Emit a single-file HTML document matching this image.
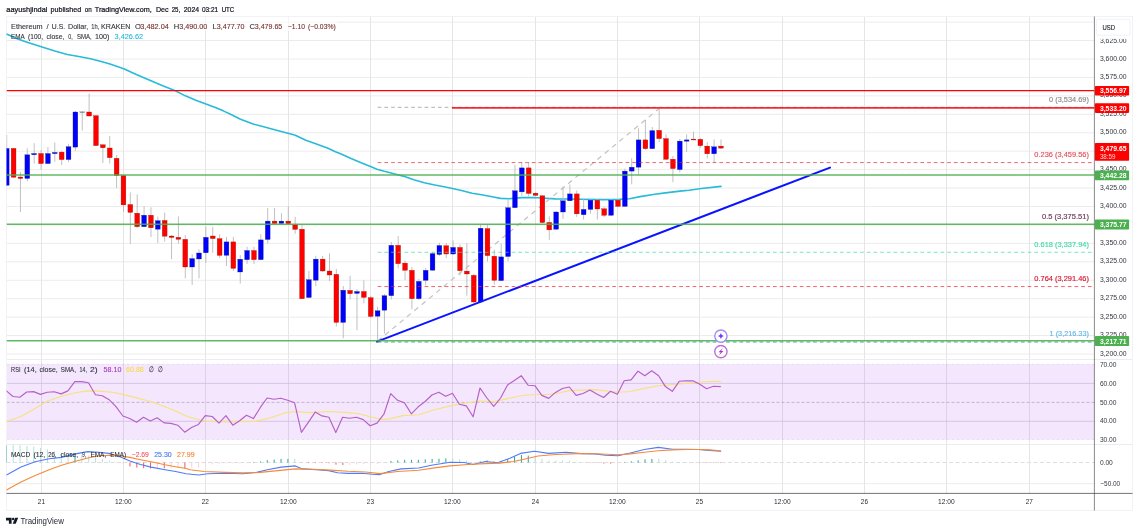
<!DOCTYPE html>
<html lang="en"><head><meta charset="utf-8"><title>ETHUSD chart</title>
<style>html,body{margin:0;padding:0;background:#fff}svg{display:block}</style></head>
<body>
<svg width="1139" height="532" viewBox="0 0 1139 532" font-family='"Liberation Sans", sans-serif'>
<rect width="1139" height="532" fill="#fff"/>
<defs><clipPath id="cp"><rect x="6.5" y="16.5" width="1088" height="477"/></clipPath></defs>
<g stroke="#ececec" stroke-width="1">
<line x1="6.5" x2="1094.5" y1="22.12" y2="22.12"/>
<line x1="6.5" x2="1094.5" y1="40.56" y2="40.56"/>
<line x1="6.5" x2="1094.5" y1="59.00" y2="59.00"/>
<line x1="6.5" x2="1094.5" y1="77.44" y2="77.44"/>
<line x1="6.5" x2="1094.5" y1="95.88" y2="95.88"/>
<line x1="6.5" x2="1094.5" y1="114.31" y2="114.31"/>
<line x1="6.5" x2="1094.5" y1="132.75" y2="132.75"/>
<line x1="6.5" x2="1094.5" y1="151.19" y2="151.19"/>
<line x1="6.5" x2="1094.5" y1="169.62" y2="169.62"/>
<line x1="6.5" x2="1094.5" y1="188.06" y2="188.06"/>
<line x1="6.5" x2="1094.5" y1="206.50" y2="206.50"/>
<line x1="6.5" x2="1094.5" y1="224.94" y2="224.94"/>
<line x1="6.5" x2="1094.5" y1="243.38" y2="243.38"/>
<line x1="6.5" x2="1094.5" y1="261.81" y2="261.81"/>
<line x1="6.5" x2="1094.5" y1="280.25" y2="280.25"/>
<line x1="6.5" x2="1094.5" y1="298.69" y2="298.69"/>
<line x1="6.5" x2="1094.5" y1="317.12" y2="317.12"/>
<line x1="6.5" x2="1094.5" y1="335.56" y2="335.56"/>
<line x1="6.5" x2="1094.5" y1="354.00" y2="354.00"/>
</g>
<line x1="6.5" x2="1094.5" y1="483.7" y2="483.7" stroke="#ececec"/>
<line x1="6.5" x2="1094.5" y1="462.5" y2="462.5" stroke="#d6d6d6" stroke-width="0.8" stroke-dasharray="4 2.5"/>
<g stroke="#e5e5e5" stroke-width="1">
<line x1="41.5" x2="41.5" y1="16.5" y2="493.4"/>
<line x1="123.5" x2="123.5" y1="16.5" y2="493.4"/>
<line x1="205.5" x2="205.5" y1="16.5" y2="493.4"/>
<line x1="288.5" x2="288.5" y1="16.5" y2="493.4"/>
<line x1="370.5" x2="370.5" y1="16.5" y2="493.4"/>
<line x1="452.5" x2="452.5" y1="16.5" y2="493.4"/>
<line x1="535.5" x2="535.5" y1="16.5" y2="493.4"/>
<line x1="617.5" x2="617.5" y1="16.5" y2="493.4"/>
<line x1="699.5" x2="699.5" y1="16.5" y2="493.4"/>
<line x1="782.5" x2="782.5" y1="16.5" y2="493.4"/>
<line x1="864.5" x2="864.5" y1="16.5" y2="493.4"/>
<line x1="946.5" x2="946.5" y1="16.5" y2="493.4"/>
<line x1="1029.5" x2="1029.5" y1="16.5" y2="493.4"/>
</g>
<rect x="6.5" y="364.2" width="1088.0" height="75.3" fill="rgb(175,88,242)" fill-opacity="0.15"/>
<g stroke="#cdbfe0" stroke-width="0.8">
<line x1="6.5" x2="1094.5" y1="383.4" y2="383.4"/>
<line x1="6.5" x2="1094.5" y1="421.3" y2="421.3"/>
</g>
<g stroke="#b9a9cf" stroke-width="0.8" stroke-dasharray="3 2">
<line x1="6.5" x2="1094.5" y1="364.3" y2="364.3" opacity="0.3"/>
<line x1="6.5" x2="1094.5" y1="439.5" y2="439.5" opacity="0.3"/>
<line x1="6.5" x2="1094.5" y1="402.4" y2="402.4" stroke="#b5a8c4"/>
</g>
<g stroke="#ebecf0" stroke-width="1">
<line x1="6.5" x2="1132.5" y1="359.5" y2="359.5"/>
<line x1="6.5" x2="1132.5" y1="444.5" y2="444.5"/>
</g>
<rect x="6.5" y="16.5" width="1126.0" height="494.0" fill="none" stroke="#f1f2f6" stroke-width="1"/>
<rect x="7.2" y="17.2" width="331" height="13.8" fill="#fff" opacity="0.6"/>
<rect x="7.2" y="31" width="138" height="9" fill="#fff" opacity="0.6"/>
<rect x="9.5" y="449.5" width="187" height="9.6" fill="#fff" opacity="0.45"/>
<g clip-path="url(#cp)">
<polyline points="6.5,34.0 15.8,38.2 26.3,41.9 42.1,47.1 54.8,51.1 67.4,54.5 80.1,56.8 90.6,58.7 101.2,61.6 110.0,64.0 123.7,68.7 136.3,74.5 152.1,81.3 162.7,85.8 175.3,90.8 185.9,96.1 196.4,100.5 205.9,104.0 215.4,107.5 223.8,111.1 230.0,114.0 240.5,119.2 253.2,124.0 263.7,126.8 276.4,130.3 289.0,133.5 295.3,135.3 305.9,140.3 316.4,144.0 328.0,148.2 335.4,151.8 340.0,153.6 350.5,158.2 361.1,162.7 370.6,166.6 376.9,169.2 384.3,171.3 394.8,174.0 403.2,176.1 413.8,179.8 424.3,182.7 434.8,185.0 445.4,187.0 460.5,190.2 472.1,193.2 481.6,194.7 492.1,196.8 500.6,198.4 509.0,198.7 521.7,197.6 534.3,197.5 544.8,198.2 555.4,198.9 570.0,199.0 581.1,199.2 602.1,199.6 619.0,199.4 629.5,198.7 640.1,196.6 654.8,194.3 665.4,192.9 680.0,191.1 689.0,190.3 699.5,188.8 721.0,186.4" fill="none" stroke="#27bbd8" stroke-width="1.6" stroke-linejoin="round" stroke-linecap="round"/>
<line x1="377.7" y1="341" x2="659" y2="108.6" stroke="#c2c2c2" stroke-width="1.2" stroke-dasharray="5 4.5"/>
<g>
<line x1="6.71" x2="6.71" y1="135.0" y2="185.5" stroke="#b6b6b6" stroke-width="0.85"/>
<line x1="13.58" x2="13.58" y1="148.0" y2="178.0" stroke="#b6b6b6" stroke-width="0.85"/>
<line x1="20.45" x2="20.45" y1="172.0" y2="212.0" stroke="#b6b6b6" stroke-width="0.85"/>
<line x1="27.31" x2="27.31" y1="148.4" y2="181.4" stroke="#b6b6b6" stroke-width="0.85"/>
<line x1="34.18" x2="34.18" y1="143.2" y2="163.6" stroke="#b6b6b6" stroke-width="0.85"/>
<line x1="41.05" x2="41.05" y1="150.0" y2="169.5" stroke="#b6b6b6" stroke-width="0.85"/>
<line x1="47.92" x2="47.92" y1="147.0" y2="164.0" stroke="#b6b6b6" stroke-width="0.85"/>
<line x1="54.79" x2="54.79" y1="142.5" y2="161.6" stroke="#b6b6b6" stroke-width="0.85"/>
<line x1="61.65" x2="61.65" y1="151.0" y2="165.0" stroke="#b6b6b6" stroke-width="0.85"/>
<line x1="68.52" x2="68.52" y1="143.8" y2="162.0" stroke="#b6b6b6" stroke-width="0.85"/>
<line x1="75.39" x2="75.39" y1="111.0" y2="151.0" stroke="#b6b6b6" stroke-width="0.85"/>
<line x1="82.26" x2="82.26" y1="111.4" y2="130.5" stroke="#b6b6b6" stroke-width="0.85"/>
<line x1="89.13" x2="89.13" y1="93.6" y2="116.5" stroke="#b6b6b6" stroke-width="0.85"/>
<line x1="95.99" x2="95.99" y1="115.0" y2="146.0" stroke="#b6b6b6" stroke-width="0.85"/>
<line x1="102.86" x2="102.86" y1="144.0" y2="163.0" stroke="#b6b6b6" stroke-width="0.85"/>
<line x1="109.73" x2="109.73" y1="136.0" y2="163.6" stroke="#b6b6b6" stroke-width="0.85"/>
<line x1="116.60" x2="116.60" y1="155.0" y2="188.0" stroke="#b6b6b6" stroke-width="0.85"/>
<line x1="123.47" x2="123.47" y1="175.0" y2="212.0" stroke="#b6b6b6" stroke-width="0.85"/>
<line x1="130.33" x2="130.33" y1="192.4" y2="244.0" stroke="#b6b6b6" stroke-width="0.85"/>
<line x1="137.20" x2="137.20" y1="194.4" y2="228.0" stroke="#b6b6b6" stroke-width="0.85"/>
<line x1="144.07" x2="144.07" y1="206.2" y2="227.0" stroke="#b6b6b6" stroke-width="0.85"/>
<line x1="150.94" x2="150.94" y1="207.3" y2="237.0" stroke="#b6b6b6" stroke-width="0.85"/>
<line x1="157.81" x2="157.81" y1="216.6" y2="243.0" stroke="#b6b6b6" stroke-width="0.85"/>
<line x1="164.67" x2="164.67" y1="212.6" y2="241.5" stroke="#b6b6b6" stroke-width="0.85"/>
<line x1="171.54" x2="171.54" y1="235.0" y2="259.3" stroke="#b6b6b6" stroke-width="0.85"/>
<line x1="178.41" x2="178.41" y1="216.3" y2="243.5" stroke="#b6b6b6" stroke-width="0.85"/>
<line x1="185.28" x2="185.28" y1="235.0" y2="278.3" stroke="#b6b6b6" stroke-width="0.85"/>
<line x1="192.15" x2="192.15" y1="254.0" y2="284.9" stroke="#b6b6b6" stroke-width="0.85"/>
<line x1="199.01" x2="199.01" y1="249.4" y2="278.3" stroke="#b6b6b6" stroke-width="0.85"/>
<line x1="205.88" x2="205.88" y1="226.4" y2="263.0" stroke="#b6b6b6" stroke-width="0.85"/>
<line x1="212.75" x2="212.75" y1="227.0" y2="252.7" stroke="#b6b6b6" stroke-width="0.85"/>
<line x1="219.62" x2="219.62" y1="234.3" y2="257.9" stroke="#b6b6b6" stroke-width="0.85"/>
<line x1="226.49" x2="226.49" y1="236.9" y2="266.0" stroke="#b6b6b6" stroke-width="0.85"/>
<line x1="233.35" x2="233.35" y1="236.9" y2="271.0" stroke="#b6b6b6" stroke-width="0.85"/>
<line x1="240.22" x2="240.22" y1="255.0" y2="283.6" stroke="#b6b6b6" stroke-width="0.85"/>
<line x1="247.09" x2="247.09" y1="246.8" y2="263.9" stroke="#b6b6b6" stroke-width="0.85"/>
<line x1="253.96" x2="253.96" y1="246.8" y2="263.9" stroke="#b6b6b6" stroke-width="0.85"/>
<line x1="260.83" x2="260.83" y1="234.3" y2="260.0" stroke="#b6b6b6" stroke-width="0.85"/>
<line x1="267.69" x2="267.69" y1="207.9" y2="243.5" stroke="#b6b6b6" stroke-width="0.85"/>
<line x1="274.56" x2="274.56" y1="207.9" y2="224.0" stroke="#b6b6b6" stroke-width="0.85"/>
<line x1="281.43" x2="281.43" y1="213.2" y2="224.0" stroke="#b6b6b6" stroke-width="0.85"/>
<line x1="288.30" x2="288.30" y1="206.6" y2="224.0" stroke="#b6b6b6" stroke-width="0.85"/>
<line x1="295.17" x2="295.17" y1="216.8" y2="233.8" stroke="#b6b6b6" stroke-width="0.85"/>
<line x1="302.03" x2="302.03" y1="225.0" y2="299.0" stroke="#b6b6b6" stroke-width="0.85"/>
<line x1="308.90" x2="308.90" y1="271.0" y2="298.0" stroke="#b6b6b6" stroke-width="0.85"/>
<line x1="315.77" x2="315.77" y1="255.8" y2="286.2" stroke="#b6b6b6" stroke-width="0.85"/>
<line x1="322.64" x2="322.64" y1="255.8" y2="272.0" stroke="#b6b6b6" stroke-width="0.85"/>
<line x1="329.51" x2="329.51" y1="253.2" y2="281.0" stroke="#b6b6b6" stroke-width="0.85"/>
<line x1="336.37" x2="336.37" y1="269.0" y2="326.4" stroke="#b6b6b6" stroke-width="0.85"/>
<line x1="343.24" x2="343.24" y1="286.0" y2="338.2" stroke="#b6b6b6" stroke-width="0.85"/>
<line x1="350.11" x2="350.11" y1="275.6" y2="299.4" stroke="#b6b6b6" stroke-width="0.85"/>
<line x1="356.98" x2="356.98" y1="289.0" y2="330.3" stroke="#b6b6b6" stroke-width="0.85"/>
<line x1="363.85" x2="363.85" y1="280.3" y2="303.3" stroke="#b6b6b6" stroke-width="0.85"/>
<line x1="370.71" x2="370.71" y1="296.0" y2="318.0" stroke="#b6b6b6" stroke-width="0.85"/>
<line x1="377.58" x2="377.58" y1="306.6" y2="340.9" stroke="#b6b6b6" stroke-width="0.85"/>
<line x1="384.45" x2="384.45" y1="294.0" y2="333.6" stroke="#b6b6b6" stroke-width="0.85"/>
<line x1="391.32" x2="391.32" y1="242.0" y2="299.4" stroke="#b6b6b6" stroke-width="0.85"/>
<line x1="398.19" x2="398.19" y1="236.1" y2="268.4" stroke="#b6b6b6" stroke-width="0.85"/>
<line x1="405.05" x2="405.05" y1="260.5" y2="280.0" stroke="#b6b6b6" stroke-width="0.85"/>
<line x1="411.92" x2="411.92" y1="267.0" y2="309.3" stroke="#b6b6b6" stroke-width="0.85"/>
<line x1="418.79" x2="418.79" y1="279.0" y2="300.0" stroke="#b6b6b6" stroke-width="0.85"/>
<line x1="425.66" x2="425.66" y1="268.0" y2="285.5" stroke="#b6b6b6" stroke-width="0.85"/>
<line x1="432.53" x2="432.53" y1="252.0" y2="271.0" stroke="#b6b6b6" stroke-width="0.85"/>
<line x1="439.39" x2="439.39" y1="243.0" y2="256.0" stroke="#b6b6b6" stroke-width="0.85"/>
<line x1="446.26" x2="446.26" y1="243.0" y2="258.2" stroke="#b6b6b6" stroke-width="0.85"/>
<line x1="453.13" x2="453.13" y1="240.4" y2="255.0" stroke="#b6b6b6" stroke-width="0.85"/>
<line x1="460.00" x2="460.00" y1="244.4" y2="275.3" stroke="#b6b6b6" stroke-width="0.85"/>
<line x1="466.87" x2="466.87" y1="243.0" y2="295.7" stroke="#b6b6b6" stroke-width="0.85"/>
<line x1="473.73" x2="473.73" y1="274.0" y2="303.0" stroke="#b6b6b6" stroke-width="0.85"/>
<line x1="480.60" x2="480.60" y1="224.0" y2="303.0" stroke="#b6b6b6" stroke-width="0.85"/>
<line x1="487.47" x2="487.47" y1="224.6" y2="261.5" stroke="#b6b6b6" stroke-width="0.85"/>
<line x1="494.34" x2="494.34" y1="249.6" y2="284.6" stroke="#b6b6b6" stroke-width="0.85"/>
<line x1="501.21" x2="501.21" y1="243.7" y2="281.0" stroke="#b6b6b6" stroke-width="0.85"/>
<line x1="508.07" x2="508.07" y1="199.8" y2="261.5" stroke="#b6b6b6" stroke-width="0.85"/>
<line x1="514.94" x2="514.94" y1="164.9" y2="208.0" stroke="#b6b6b6" stroke-width="0.85"/>
<line x1="521.81" x2="521.81" y1="162.2" y2="195.8" stroke="#b6b6b6" stroke-width="0.85"/>
<line x1="528.68" x2="528.68" y1="162.2" y2="196.5" stroke="#b6b6b6" stroke-width="0.85"/>
<line x1="535.55" x2="535.55" y1="192.0" y2="196.0" stroke="#b6b6b6" stroke-width="0.85"/>
<line x1="542.41" x2="542.41" y1="195.0" y2="223.0" stroke="#b6b6b6" stroke-width="0.85"/>
<line x1="549.28" x2="549.28" y1="216.3" y2="239.8" stroke="#b6b6b6" stroke-width="0.85"/>
<line x1="556.15" x2="556.15" y1="211.0" y2="230.0" stroke="#b6b6b6" stroke-width="0.85"/>
<line x1="563.02" x2="563.02" y1="186.6" y2="218.9" stroke="#b6b6b6" stroke-width="0.85"/>
<line x1="569.89" x2="569.89" y1="184.6" y2="201.0" stroke="#b6b6b6" stroke-width="0.85"/>
<line x1="576.75" x2="576.75" y1="190.6" y2="216.9" stroke="#b6b6b6" stroke-width="0.85"/>
<line x1="583.62" x2="583.62" y1="199.1" y2="219.6" stroke="#b6b6b6" stroke-width="0.85"/>
<line x1="590.49" x2="590.49" y1="199.0" y2="213.6" stroke="#b6b6b6" stroke-width="0.85"/>
<line x1="597.36" x2="597.36" y1="199.0" y2="219.6" stroke="#b6b6b6" stroke-width="0.85"/>
<line x1="604.23" x2="604.23" y1="207.0" y2="217.0" stroke="#b6b6b6" stroke-width="0.85"/>
<line x1="611.09" x2="611.09" y1="199.0" y2="216.0" stroke="#b6b6b6" stroke-width="0.85"/>
<line x1="617.96" x2="617.96" y1="199.0" y2="207.0" stroke="#b6b6b6" stroke-width="0.85"/>
<line x1="624.83" x2="624.83" y1="168.6" y2="207.0" stroke="#b6b6b6" stroke-width="0.85"/>
<line x1="631.70" x2="631.70" y1="158.2" y2="184.3" stroke="#b6b6b6" stroke-width="0.85"/>
<line x1="638.57" x2="638.57" y1="128.3" y2="174.9" stroke="#b6b6b6" stroke-width="0.85"/>
<line x1="645.43" x2="645.43" y1="119.8" y2="150.0" stroke="#b6b6b6" stroke-width="0.85"/>
<line x1="652.30" x2="652.30" y1="127.0" y2="149.0" stroke="#b6b6b6" stroke-width="0.85"/>
<line x1="659.17" x2="659.17" y1="108.6" y2="142.2" stroke="#b6b6b6" stroke-width="0.85"/>
<line x1="666.04" x2="666.04" y1="134.3" y2="160.0" stroke="#b6b6b6" stroke-width="0.85"/>
<line x1="672.91" x2="672.91" y1="156.0" y2="182.2" stroke="#b6b6b6" stroke-width="0.85"/>
<line x1="679.77" x2="679.77" y1="138.9" y2="172.3" stroke="#b6b6b6" stroke-width="0.85"/>
<line x1="686.64" x2="686.64" y1="134.3" y2="152.0" stroke="#b6b6b6" stroke-width="0.85"/>
<line x1="693.51" x2="693.51" y1="131.6" y2="140.0" stroke="#b6b6b6" stroke-width="0.85"/>
<line x1="700.38" x2="700.38" y1="138.0" y2="148.0" stroke="#b6b6b6" stroke-width="0.85"/>
<line x1="707.25" x2="707.25" y1="142.2" y2="158.5" stroke="#b6b6b6" stroke-width="0.85"/>
<line x1="714.11" x2="714.11" y1="139.5" y2="163.0" stroke="#b6b6b6" stroke-width="0.85"/>
<line x1="720.98" x2="720.98" y1="139.5" y2="149.0" stroke="#b6b6b6" stroke-width="0.85"/>
<rect x="4.31" y="148.40" width="4.8" height="36.90" fill="#0000ff" stroke="#1c2a6a" stroke-width="0.3"/>
<rect x="11.18" y="148.40" width="4.8" height="28.80" fill="#ff0000" stroke="#8a1a00" stroke-width="0.3"/>
<rect x="18.05" y="177.00" width="4.8" height="1.50" fill="#ff0000" stroke="#8a1a00" stroke-width="0.3"/>
<rect x="24.91" y="154.80" width="4.8" height="23.70" fill="#0000ff" stroke="#1c2a6a" stroke-width="0.3"/>
<rect x="31.78" y="153.50" width="4.8" height="1.30" fill="#0000ff" stroke="#1c2a6a" stroke-width="0.3"/>
<rect x="38.65" y="153.50" width="4.8" height="10.10" fill="#ff0000" stroke="#8a1a00" stroke-width="0.3"/>
<rect x="45.52" y="153.50" width="4.8" height="10.10" fill="#0000ff" stroke="#1c2a6a" stroke-width="0.3"/>
<rect x="52.39" y="152.40" width="4.8" height="1.30" fill="#0000ff" stroke="#1c2a6a" stroke-width="0.3"/>
<rect x="59.25" y="152.10" width="4.8" height="7.50" fill="#ff0000" stroke="#8a1a00" stroke-width="0.3"/>
<rect x="66.12" y="146.70" width="4.8" height="12.90" fill="#0000ff" stroke="#1c2a6a" stroke-width="0.3"/>
<rect x="72.99" y="112.00" width="4.8" height="35.10" fill="#0000ff" stroke="#1c2a6a" stroke-width="0.3"/>
<rect x="79.86" y="111.80" width="4.8" height="0.90" fill="#6f8f7f" stroke="#6f8f7f" stroke-width="0.3"/>
<rect x="86.73" y="112.00" width="4.8" height="4.00" fill="#ff0000" stroke="#8a1a00" stroke-width="0.3"/>
<rect x="93.59" y="115.70" width="4.8" height="29.90" fill="#ff0000" stroke="#8a1a00" stroke-width="0.3"/>
<rect x="100.46" y="144.80" width="4.8" height="3.00" fill="#ff0000" stroke="#8a1a00" stroke-width="0.3"/>
<rect x="107.33" y="148.00" width="4.8" height="9.70" fill="#ff0000" stroke="#8a1a00" stroke-width="0.3"/>
<rect x="114.20" y="158.30" width="4.8" height="17.20" fill="#ff0000" stroke="#8a1a00" stroke-width="0.3"/>
<rect x="121.07" y="175.50" width="4.8" height="29.40" fill="#ff0000" stroke="#8a1a00" stroke-width="0.3"/>
<rect x="127.93" y="204.50" width="4.8" height="7.90" fill="#ff0000" stroke="#8a1a00" stroke-width="0.3"/>
<rect x="134.80" y="213.20" width="4.8" height="13.50" fill="#ff0000" stroke="#8a1a00" stroke-width="0.3"/>
<rect x="141.67" y="215.20" width="4.8" height="11.50" fill="#0000ff" stroke="#1c2a6a" stroke-width="0.3"/>
<rect x="148.54" y="215.20" width="4.8" height="12.60" fill="#ff0000" stroke="#8a1a00" stroke-width="0.3"/>
<rect x="155.41" y="220.70" width="4.8" height="8.50" fill="#0000ff" stroke="#1c2a6a" stroke-width="0.3"/>
<rect x="162.27" y="220.40" width="4.8" height="15.80" fill="#ff0000" stroke="#8a1a00" stroke-width="0.3"/>
<rect x="169.14" y="236.00" width="4.8" height="1.50" fill="#ff0000" stroke="#8a1a00" stroke-width="0.3"/>
<rect x="176.01" y="237.30" width="4.8" height="2.00" fill="#ff0000" stroke="#8a1a00" stroke-width="0.3"/>
<rect x="182.88" y="239.30" width="4.8" height="27.70" fill="#ff0000" stroke="#8a1a00" stroke-width="0.3"/>
<rect x="189.75" y="258.60" width="4.8" height="8.40" fill="#0000ff" stroke="#1c2a6a" stroke-width="0.3"/>
<rect x="196.61" y="253.00" width="4.8" height="6.00" fill="#0000ff" stroke="#1c2a6a" stroke-width="0.3"/>
<rect x="203.48" y="237.30" width="4.8" height="15.50" fill="#0000ff" stroke="#1c2a6a" stroke-width="0.3"/>
<rect x="210.35" y="236.00" width="4.8" height="2.60" fill="#ff0000" stroke="#8a1a00" stroke-width="0.3"/>
<rect x="217.22" y="238.60" width="4.8" height="16.80" fill="#ff0000" stroke="#8a1a00" stroke-width="0.3"/>
<rect x="224.09" y="241.90" width="4.8" height="13.40" fill="#0000ff" stroke="#1c2a6a" stroke-width="0.3"/>
<rect x="230.95" y="241.90" width="4.8" height="26.50" fill="#ff0000" stroke="#8a1a00" stroke-width="0.3"/>
<rect x="237.82" y="259.20" width="4.8" height="12.80" fill="#0000ff" stroke="#1c2a6a" stroke-width="0.3"/>
<rect x="244.69" y="250.50" width="4.8" height="9.20" fill="#0000ff" stroke="#1c2a6a" stroke-width="0.3"/>
<rect x="251.56" y="250.50" width="4.8" height="9.20" fill="#ff0000" stroke="#8a1a00" stroke-width="0.3"/>
<rect x="258.43" y="239.90" width="4.8" height="19.80" fill="#0000ff" stroke="#1c2a6a" stroke-width="0.3"/>
<rect x="265.29" y="221.10" width="4.8" height="18.40" fill="#0000ff" stroke="#1c2a6a" stroke-width="0.3"/>
<rect x="272.16" y="221.10" width="4.8" height="2.40" fill="#ff0000" stroke="#8a1a00" stroke-width="0.3"/>
<rect x="279.03" y="221.10" width="4.8" height="2.40" fill="#0000ff" stroke="#1c2a6a" stroke-width="0.3"/>
<rect x="285.90" y="221.10" width="4.8" height="2.60" fill="#ff0000" stroke="#8a1a00" stroke-width="0.3"/>
<rect x="292.77" y="224.60" width="4.8" height="4.80" fill="#ff0000" stroke="#8a1a00" stroke-width="0.3"/>
<rect x="299.63" y="229.20" width="4.8" height="69.50" fill="#ff0000" stroke="#8a1a00" stroke-width="0.3"/>
<rect x="306.50" y="279.70" width="4.8" height="17.80" fill="#0000ff" stroke="#1c2a6a" stroke-width="0.3"/>
<rect x="313.37" y="259.10" width="4.8" height="21.10" fill="#0000ff" stroke="#1c2a6a" stroke-width="0.3"/>
<rect x="320.24" y="259.10" width="4.8" height="11.90" fill="#ff0000" stroke="#8a1a00" stroke-width="0.3"/>
<rect x="327.11" y="271.00" width="4.8" height="4.00" fill="#ff0000" stroke="#8a1a00" stroke-width="0.3"/>
<rect x="333.97" y="274.30" width="4.8" height="48.10" fill="#ff0000" stroke="#8a1a00" stroke-width="0.3"/>
<rect x="340.84" y="290.20" width="4.8" height="32.20" fill="#0000ff" stroke="#1c2a6a" stroke-width="0.3"/>
<rect x="347.71" y="290.40" width="4.8" height="3.30" fill="#ff0000" stroke="#8a1a00" stroke-width="0.3"/>
<rect x="354.58" y="291.50" width="4.8" height="1.90" fill="#0000ff" stroke="#1c2a6a" stroke-width="0.3"/>
<rect x="361.45" y="291.50" width="4.8" height="5.90" fill="#ff0000" stroke="#8a1a00" stroke-width="0.3"/>
<rect x="368.31" y="297.70" width="4.8" height="18.80" fill="#ff0000" stroke="#8a1a00" stroke-width="0.3"/>
<rect x="375.18" y="310.80" width="4.8" height="5.40" fill="#0000ff" stroke="#1c2a6a" stroke-width="0.3"/>
<rect x="382.05" y="295.70" width="4.8" height="14.50" fill="#0000ff" stroke="#1c2a6a" stroke-width="0.3"/>
<rect x="388.92" y="245.30" width="4.8" height="50.40" fill="#0000ff" stroke="#1c2a6a" stroke-width="0.3"/>
<rect x="395.79" y="245.30" width="4.8" height="18.40" fill="#ff0000" stroke="#8a1a00" stroke-width="0.3"/>
<rect x="402.65" y="263.10" width="4.8" height="7.20" fill="#ff0000" stroke="#8a1a00" stroke-width="0.3"/>
<rect x="409.52" y="270.30" width="4.8" height="28.40" fill="#ff0000" stroke="#8a1a00" stroke-width="0.3"/>
<rect x="416.39" y="281.40" width="4.8" height="17.30" fill="#0000ff" stroke="#1c2a6a" stroke-width="0.3"/>
<rect x="423.26" y="270.30" width="4.8" height="10.00" fill="#0000ff" stroke="#1c2a6a" stroke-width="0.3"/>
<rect x="430.13" y="253.60" width="4.8" height="16.60" fill="#0000ff" stroke="#1c2a6a" stroke-width="0.3"/>
<rect x="436.99" y="245.50" width="4.8" height="9.00" fill="#0000ff" stroke="#1c2a6a" stroke-width="0.3"/>
<rect x="443.86" y="245.70" width="4.8" height="8.30" fill="#ff0000" stroke="#8a1a00" stroke-width="0.3"/>
<rect x="450.73" y="247.40" width="4.8" height="6.60" fill="#0000ff" stroke="#1c2a6a" stroke-width="0.3"/>
<rect x="457.60" y="247.40" width="4.8" height="23.30" fill="#ff0000" stroke="#8a1a00" stroke-width="0.3"/>
<rect x="464.47" y="271.10" width="4.8" height="2.90" fill="#ff0000" stroke="#8a1a00" stroke-width="0.3"/>
<rect x="471.33" y="275.30" width="4.8" height="26.70" fill="#ff0000" stroke="#8a1a00" stroke-width="0.3"/>
<rect x="478.20" y="228.20" width="4.8" height="73.80" fill="#0000ff" stroke="#1c2a6a" stroke-width="0.3"/>
<rect x="485.07" y="228.60" width="4.8" height="27.00" fill="#ff0000" stroke="#8a1a00" stroke-width="0.3"/>
<rect x="491.94" y="256.20" width="4.8" height="24.10" fill="#ff0000" stroke="#8a1a00" stroke-width="0.3"/>
<rect x="498.81" y="256.90" width="4.8" height="23.70" fill="#0000ff" stroke="#1c2a6a" stroke-width="0.3"/>
<rect x="505.67" y="207.70" width="4.8" height="48.80" fill="#0000ff" stroke="#1c2a6a" stroke-width="0.3"/>
<rect x="512.54" y="190.80" width="4.8" height="16.90" fill="#0000ff" stroke="#1c2a6a" stroke-width="0.3"/>
<rect x="519.41" y="167.90" width="4.8" height="24.00" fill="#0000ff" stroke="#1c2a6a" stroke-width="0.3"/>
<rect x="526.28" y="167.90" width="4.8" height="25.60" fill="#ff0000" stroke="#8a1a00" stroke-width="0.3"/>
<rect x="533.15" y="193.20" width="4.8" height="2.20" fill="#ff0000" stroke="#8a1a00" stroke-width="0.3"/>
<rect x="540.01" y="195.80" width="4.8" height="26.80" fill="#ff0000" stroke="#8a1a00" stroke-width="0.3"/>
<rect x="546.88" y="222.40" width="4.8" height="7.50" fill="#ff0000" stroke="#8a1a00" stroke-width="0.3"/>
<rect x="553.75" y="212.00" width="4.8" height="17.20" fill="#0000ff" stroke="#1c2a6a" stroke-width="0.3"/>
<rect x="560.62" y="200.80" width="4.8" height="11.20" fill="#0000ff" stroke="#1c2a6a" stroke-width="0.3"/>
<rect x="567.49" y="193.90" width="4.8" height="6.90" fill="#0000ff" stroke="#1c2a6a" stroke-width="0.3"/>
<rect x="574.35" y="193.90" width="4.8" height="20.00" fill="#ff0000" stroke="#8a1a00" stroke-width="0.3"/>
<rect x="581.22" y="209.40" width="4.8" height="5.30" fill="#0000ff" stroke="#1c2a6a" stroke-width="0.3"/>
<rect x="588.09" y="200.20" width="4.8" height="9.20" fill="#0000ff" stroke="#1c2a6a" stroke-width="0.3"/>
<rect x="594.96" y="200.20" width="4.8" height="8.80" fill="#ff0000" stroke="#8a1a00" stroke-width="0.3"/>
<rect x="601.83" y="208.80" width="4.8" height="6.50" fill="#ff0000" stroke="#8a1a00" stroke-width="0.3"/>
<rect x="608.69" y="200.20" width="4.8" height="15.10" fill="#0000ff" stroke="#1c2a6a" stroke-width="0.3"/>
<rect x="615.56" y="200.20" width="4.8" height="6.20" fill="#ff0000" stroke="#8a1a00" stroke-width="0.3"/>
<rect x="622.43" y="171.10" width="4.8" height="35.30" fill="#0000ff" stroke="#1c2a6a" stroke-width="0.3"/>
<rect x="629.30" y="167.20" width="4.8" height="3.90" fill="#0000ff" stroke="#1c2a6a" stroke-width="0.3"/>
<rect x="636.17" y="139.90" width="4.8" height="27.30" fill="#0000ff" stroke="#1c2a6a" stroke-width="0.3"/>
<rect x="643.03" y="139.90" width="4.8" height="8.80" fill="#ff0000" stroke="#8a1a00" stroke-width="0.3"/>
<rect x="649.90" y="130.60" width="4.8" height="18.10" fill="#0000ff" stroke="#1c2a6a" stroke-width="0.3"/>
<rect x="656.77" y="130.30" width="4.8" height="8.30" fill="#ff0000" stroke="#8a1a00" stroke-width="0.3"/>
<rect x="663.64" y="138.60" width="4.8" height="20.70" fill="#ff0000" stroke="#8a1a00" stroke-width="0.3"/>
<rect x="670.51" y="159.20" width="4.8" height="9.40" fill="#ff0000" stroke="#8a1a00" stroke-width="0.3"/>
<rect x="677.37" y="141.10" width="4.8" height="28.50" fill="#0000ff" stroke="#1c2a6a" stroke-width="0.3"/>
<rect x="684.24" y="139.90" width="4.8" height="1.30" fill="#0000ff" stroke="#1c2a6a" stroke-width="0.3"/>
<rect x="691.11" y="139.10" width="4.8" height="0.90" fill="#ff0000" stroke="#8a1a00" stroke-width="0.3"/>
<rect x="697.98" y="139.30" width="4.8" height="6.40" fill="#ff0000" stroke="#8a1a00" stroke-width="0.3"/>
<rect x="704.85" y="146.10" width="4.8" height="7.70" fill="#ff0000" stroke="#8a1a00" stroke-width="0.3"/>
<rect x="711.71" y="146.80" width="4.8" height="7.00" fill="#0000ff" stroke="#1c2a6a" stroke-width="0.3"/>
<rect x="718.58" y="146.10" width="4.8" height="2.00" fill="#ff0000" stroke="#8a1a00" stroke-width="0.3"/>
</g>
<line x1="6.5" x2="1094.5" y1="90.7" y2="90.7" stroke="#ff0000" stroke-width="1.3"/>
<line x1="377.7" x2="1094.5" y1="107.30" y2="107.30" stroke="#a8a8a8" stroke-width="0.9" stroke-dasharray="3.7 3" opacity="1"/>
<line x1="452" x2="1094.5" y1="107.95" y2="107.95" stroke="#f5141e" stroke-width="1.7" opacity="0.9"/>
<line x1="377" y1="341.6" x2="830" y2="167.6" stroke="#0a14ff" stroke-width="2.05" stroke-linecap="round"/>
<line x1="6.5" x2="1094.5" y1="175.0" y2="175.0" stroke="#4caf50" stroke-width="1.6" opacity="0.88"/>
<line x1="6.5" x2="1094.5" y1="224.25" y2="224.25" stroke="#4caf50" stroke-width="1.6" opacity="0.88"/>
<line x1="6.5" x2="1094.5" y1="340.8" y2="340.8" stroke="#4caf50" stroke-width="1.6" opacity="0.88"/>
<line x1="377.7" x2="1094.5" y1="162.57" y2="162.57" stroke="#e0283a" stroke-width="0.7" stroke-dasharray="3.7 3" opacity="1"/>
<line x1="377.7" x2="1094.5" y1="252.27" y2="252.27" stroke="#3fd8a8" stroke-width="0.7" stroke-dasharray="3.7 3" opacity="1"/>
<line x1="377.7" x2="1094.5" y1="286.55" y2="286.55" stroke="#f0202c" stroke-width="0.7" stroke-dasharray="3.7 3" opacity="1"/>
<line x1="377.7" x2="1094.5" y1="342.06" y2="342.06" stroke="#2b9a7c" stroke-width="0.8" stroke-dasharray="3.7 3" opacity="1"/>
</g>
<text x="1088.9" y="101.9" font-size="7.4" fill="#8a8a8a" text-anchor="end" textLength="39.9" lengthAdjust="spacingAndGlyphs" stroke="#8a8a8a" stroke-width="0.15">0 (3,534.69)</text>
<text x="1088.9" y="157.3" font-size="7.4" fill="#e0505c" text-anchor="end" textLength="54.6" lengthAdjust="spacingAndGlyphs" stroke="#e0505c" stroke-width="0.15">0.236 (3,459.56)</text>
<text x="1088.9" y="218.9" font-size="7.4" fill="#6b3553" text-anchor="end" textLength="46.9" lengthAdjust="spacingAndGlyphs" stroke="#6b3553" stroke-width="0.15">0.5 (3,375.51)</text>
<text x="1088.9" y="246.9" font-size="7.4" fill="#3fd8a8" text-anchor="end" textLength="54.6" lengthAdjust="spacingAndGlyphs" stroke="#3fd8a8" stroke-width="0.15">0.618 (3,337.94)</text>
<text x="1088.9" y="281" font-size="7.4" fill="#d9142f" text-anchor="end" textLength="54.6" lengthAdjust="spacingAndGlyphs" stroke="#d9142f" stroke-width="0.15">0.764 (3,291.46)</text>
<text x="1088.9" y="336.3" font-size="7.4" fill="#64b5e6" text-anchor="end" textLength="39.3" lengthAdjust="spacingAndGlyphs" stroke="#64b5e6" stroke-width="0.15">1 (3,216.33)</text>
<g fill="#fff" stroke-width="1.4">
<circle cx="720.9" cy="336.1" r="6.15" stroke="#a48cf8"/>
<circle cx="720.9" cy="351.6" r="6.15" stroke="#c06fd0"/>
</g>
<path d="M720.9 333.1 Q721.3 335.7 723.9 336.1 Q721.3 336.5 720.9 339.1 Q720.5 336.5 717.9 336.1 Q720.5 335.7 720.9 333.1Z" fill="#6a3dff"/>
<path d="M723 347.9 L718.5 352.3 L720.8 352.3 L718.9 355.4 L723.4 350.9 L721.1 350.9 Z" fill="#a431bb"/>
<g clip-path="url(#cp)">
<polyline points="6.5,421.6 21.0,416.4 35.1,408.5 46.5,401.5 61.5,396.2 75.5,392.7 87.8,390.9 98.3,391.1 112.4,392.2 122.9,394.4 137.0,397.9 151.0,401.8 165.0,406.7 175.6,411.1 186.1,415.9 190.0,417.3 205.8,421.2 225.1,421.9 255.0,421.4 269.0,418.2 284.8,412.9 295.4,411.5 309.4,412.6 328.7,411.5 348.0,412.6 358.6,413.8 372.6,417.3 383.2,419.6 390.5,418.6 402.8,415.6 418.6,414.7 432.7,410.3 450.2,405.9 464.3,403.3 480.0,401.0 494.0,401.9 506.4,398.9 520.5,395.7 534.5,394.5 548.6,394.5 560.0,392.8 568.8,390.6 595.1,389.6 618.0,392.2 630.2,391.5 644.3,388.4 658.3,385.7 679.4,384.0 700.5,382.2 712.8,381.2 720.7,381.5" fill="none" stroke="#f7e27c" stroke-width="1.1" stroke-linejoin="round" stroke-linecap="round"/>
<polyline points="6.1,390.6 13.0,396.5 19.8,397.2 26.7,392.0 33.6,391.6 40.4,394.4 47.3,392.2 54.2,391.8 61.1,393.9 67.9,390.9 74.8,381.6 81.7,381.6 88.5,382.7 95.4,394.8 102.3,395.8 109.1,399.7 116.0,406.7 122.9,416.0 129.7,418.5 136.6,422.2 143.5,417.3 150.3,421.1 157.2,417.8 164.1,422.9 170.9,423.4 177.8,425.2 184.7,432.2 191.5,427.6 198.4,424.4 205.3,415.6 212.2,416.5 219.0,423.1 225.9,415.6 232.8,425.2 239.6,420.8 246.5,415.2 253.4,418.6 260.2,407.7 267.1,398.0 274.0,399.2 280.8,398.2 287.7,400.3 294.6,402.8 301.4,432.3 308.3,422.3 315.2,412.1 322.0,415.9 328.9,417.3 335.8,432.6 342.6,417.3 349.5,418.2 356.4,417.3 363.2,419.6 370.1,425.8 377.0,423.1 383.9,414.2 390.7,393.6 397.6,400.3 404.5,402.9 411.3,413.8 418.2,406.8 425.1,401.5 431.9,395.0 438.8,392.2 445.7,396.3 452.5,393.3 459.4,404.2 466.3,405.9 473.1,416.8 480.0,388.0 486.9,398.0 493.7,406.4 500.6,398.0 507.5,384.9 514.3,380.5 521.2,375.7 528.1,385.2 534.9,385.7 541.8,395.4 548.7,398.4 555.5,392.4 562.4,388.5 569.3,387.0 576.2,395.4 583.0,393.5 589.9,390.1 596.8,394.0 603.6,397.5 610.5,391.3 617.4,394.2 624.2,380.8 631.1,379.9 638.0,371.2 644.8,375.7 651.7,370.8 658.6,375.7 665.4,386.6 672.3,391.3 679.2,381.3 686.0,380.8 692.9,380.8 699.8,384.3 706.6,388.7 713.5,386.3 720.4,386.6" fill="none" stroke="#b660c7" stroke-width="1.15" stroke-linejoin="round" stroke-linecap="round"/>
<line x1="6.31" x2="6.31" y1="462.5" y2="445.37" stroke="#26a69a" stroke-width="1"/>
<line x1="13.18" x2="13.18" y1="462.5" y2="445.37" stroke="#b2dfdb" stroke-width="1"/>
<line x1="20.05" x2="20.05" y1="462.5" y2="445.37" stroke="#b2dfdb" stroke-width="1"/>
<line x1="26.91" x2="26.91" y1="462.5" y2="445.94" stroke="#b2dfdb" stroke-width="1"/>
<line x1="33.78" x2="33.78" y1="462.5" y2="446.62" stroke="#b2dfdb" stroke-width="1"/>
<line x1="40.65" x2="40.65" y1="462.5" y2="447.97" stroke="#b2dfdb" stroke-width="1"/>
<line x1="47.52" x2="47.52" y1="462.5" y2="449.48" stroke="#b2dfdb" stroke-width="1"/>
<line x1="54.39" x2="54.39" y1="462.5" y2="451.35" stroke="#b2dfdb" stroke-width="1"/>
<line x1="61.25" x2="61.25" y1="462.5" y2="453.34" stroke="#b2dfdb" stroke-width="1"/>
<line x1="68.12" x2="68.12" y1="462.5" y2="453.69" stroke="#b2dfdb" stroke-width="1"/>
<line x1="74.99" x2="74.99" y1="462.5" y2="453.97" stroke="#26a69a" stroke-width="1"/>
<line x1="81.86" x2="81.86" y1="462.5" y2="454.58" stroke="#b2dfdb" stroke-width="1"/>
<line x1="88.73" x2="88.73" y1="462.5" y2="455.40" stroke="#b2dfdb" stroke-width="1"/>
<line x1="95.59" x2="95.59" y1="462.5" y2="457.36" stroke="#b2dfdb" stroke-width="1"/>
<line x1="102.46" x2="102.46" y1="462.5" y2="458.99" stroke="#b2dfdb" stroke-width="1"/>
<line x1="109.33" x2="109.33" y1="462.5" y2="460.45" stroke="#b2dfdb" stroke-width="1"/>
<line x1="116.20" x2="116.20" y1="462.5" y2="461.93" stroke="#b2dfdb" stroke-width="1"/>
<line x1="123.07" x2="123.07" y1="462.5" y2="464.58" stroke="#ffcdd2" stroke-width="1"/>
<line x1="129.93" x2="129.93" y1="462.5" y2="466.53" stroke="#ff5252" stroke-width="1"/>
<line x1="136.80" x2="136.80" y1="462.5" y2="467.50" stroke="#ff5252" stroke-width="1"/>
<line x1="143.67" x2="143.67" y1="462.5" y2="468.19" stroke="#ff5252" stroke-width="1"/>
<line x1="150.54" x2="150.54" y1="462.5" y2="468.57" stroke="#ff5252" stroke-width="1"/>
<line x1="157.41" x2="157.41" y1="462.5" y2="468.39" stroke="#ffcdd2" stroke-width="1"/>
<line x1="164.27" x2="164.27" y1="462.5" y2="468.16" stroke="#ff5252" stroke-width="1"/>
<line x1="171.14" x2="171.14" y1="462.5" y2="468.07" stroke="#ffcdd2" stroke-width="1"/>
<line x1="178.01" x2="178.01" y1="462.5" y2="468.15" stroke="#ffcdd2" stroke-width="1"/>
<line x1="184.88" x2="184.88" y1="462.5" y2="468.53" stroke="#ff5252" stroke-width="1"/>
<line x1="191.75" x2="191.75" y1="462.5" y2="467.57" stroke="#ffcdd2" stroke-width="1"/>
<line x1="198.61" x2="198.61" y1="462.5" y2="467.30" stroke="#ffcdd2" stroke-width="1"/>
<line x1="205.48" x2="205.48" y1="462.5" y2="465.40" stroke="#ffcdd2" stroke-width="1"/>
<line x1="212.35" x2="212.35" y1="462.5" y2="464.55" stroke="#ffcdd2" stroke-width="1"/>
<line x1="219.22" x2="219.22" y1="462.5" y2="463.94" stroke="#ffcdd2" stroke-width="1"/>
<line x1="226.09" x2="226.09" y1="462.5" y2="463.43" stroke="#ffcdd2" stroke-width="1"/>
<line x1="232.95" x2="232.95" y1="462.5" y2="463.47" stroke="#ffcdd2" stroke-width="1"/>
<line x1="239.82" x2="239.82" y1="462.5" y2="463.52" stroke="#ffcdd2" stroke-width="1"/>
<line x1="246.69" x2="246.69" y1="462.5" y2="463.21" stroke="#ffcdd2" stroke-width="1"/>
<line x1="253.56" x2="253.56" y1="462.5" y2="461.93" stroke="#26a69a" stroke-width="1"/>
<line x1="260.43" x2="260.43" y1="462.5" y2="461.44" stroke="#26a69a" stroke-width="1"/>
<line x1="267.29" x2="267.29" y1="462.5" y2="460.23" stroke="#26a69a" stroke-width="1"/>
<line x1="274.16" x2="274.16" y1="462.5" y2="459.57" stroke="#26a69a" stroke-width="1"/>
<line x1="281.03" x2="281.03" y1="462.5" y2="458.89" stroke="#26a69a" stroke-width="1"/>
<line x1="287.90" x2="287.90" y1="462.5" y2="458.95" stroke="#26a69a" stroke-width="1"/>
<line x1="294.77" x2="294.77" y1="462.5" y2="459.04" stroke="#b2dfdb" stroke-width="1"/>
<line x1="301.63" x2="301.63" y1="462.5" y2="461.93" stroke="#b2dfdb" stroke-width="1"/>
<line x1="308.50" x2="308.50" y1="462.5" y2="463.07" stroke="#ff5252" stroke-width="1"/>
<line x1="315.37" x2="315.37" y1="462.5" y2="463.07" stroke="#ff5252" stroke-width="1"/>
<line x1="322.24" x2="322.24" y1="462.5" y2="463.07" stroke="#ff5252" stroke-width="1"/>
<line x1="329.11" x2="329.11" y1="462.5" y2="463.27" stroke="#ff5252" stroke-width="1"/>
<line x1="335.97" x2="335.97" y1="462.5" y2="464.64" stroke="#ff5252" stroke-width="1"/>
<line x1="342.84" x2="342.84" y1="462.5" y2="464.93" stroke="#ff5252" stroke-width="1"/>
<line x1="349.71" x2="349.71" y1="462.5" y2="464.81" stroke="#ffcdd2" stroke-width="1"/>
<line x1="356.58" x2="356.58" y1="462.5" y2="464.38" stroke="#ffcdd2" stroke-width="1"/>
<line x1="363.45" x2="363.45" y1="462.5" y2="464.14" stroke="#ffcdd2" stroke-width="1"/>
<line x1="370.31" x2="370.31" y1="462.5" y2="464.27" stroke="#ffcdd2" stroke-width="1"/>
<line x1="377.18" x2="377.18" y1="462.5" y2="463.88" stroke="#ffcdd2" stroke-width="1"/>
<line x1="384.05" x2="384.05" y1="462.5" y2="463.07" stroke="#ffcdd2" stroke-width="1"/>
<line x1="390.92" x2="390.92" y1="462.5" y2="461.07" stroke="#26a69a" stroke-width="1"/>
<line x1="397.79" x2="397.79" y1="462.5" y2="460.33" stroke="#26a69a" stroke-width="1"/>
<line x1="404.65" x2="404.65" y1="462.5" y2="459.76" stroke="#26a69a" stroke-width="1"/>
<line x1="411.52" x2="411.52" y1="462.5" y2="459.81" stroke="#26a69a" stroke-width="1"/>
<line x1="418.39" x2="418.39" y1="462.5" y2="459.85" stroke="#26a69a" stroke-width="1"/>
<line x1="425.26" x2="425.26" y1="462.5" y2="459.40" stroke="#26a69a" stroke-width="1"/>
<line x1="432.13" x2="432.13" y1="462.5" y2="458.93" stroke="#26a69a" stroke-width="1"/>
<line x1="438.99" x2="438.99" y1="462.5" y2="458.74" stroke="#26a69a" stroke-width="1"/>
<line x1="445.86" x2="445.86" y1="462.5" y2="458.44" stroke="#26a69a" stroke-width="1"/>
<line x1="452.73" x2="452.73" y1="462.5" y2="458.54" stroke="#b2dfdb" stroke-width="1"/>
<line x1="459.60" x2="459.60" y1="462.5" y2="459.33" stroke="#b2dfdb" stroke-width="1"/>
<line x1="466.47" x2="466.47" y1="462.5" y2="460.64" stroke="#b2dfdb" stroke-width="1"/>
<line x1="473.33" x2="473.33" y1="462.5" y2="461.93" stroke="#b2dfdb" stroke-width="1"/>
<line x1="480.20" x2="480.20" y1="462.5" y2="461.24" stroke="#26a69a" stroke-width="1"/>
<line x1="487.07" x2="487.07" y1="462.5" y2="460.34" stroke="#26a69a" stroke-width="1"/>
<line x1="493.94" x2="493.94" y1="462.5" y2="461.40" stroke="#26a69a" stroke-width="1"/>
<line x1="500.81" x2="500.81" y1="462.5" y2="460.91" stroke="#26a69a" stroke-width="1"/>
<line x1="507.67" x2="507.67" y1="462.5" y2="458.98" stroke="#26a69a" stroke-width="1"/>
<line x1="514.54" x2="514.54" y1="462.5" y2="456.64" stroke="#26a69a" stroke-width="1"/>
<line x1="521.41" x2="521.41" y1="462.5" y2="455.03" stroke="#26a69a" stroke-width="1"/>
<line x1="528.28" x2="528.28" y1="462.5" y2="455.61" stroke="#26a69a" stroke-width="1"/>
<line x1="535.15" x2="535.15" y1="462.5" y2="456.46" stroke="#b2dfdb" stroke-width="1"/>
<line x1="542.01" x2="542.01" y1="462.5" y2="458.78" stroke="#b2dfdb" stroke-width="1"/>
<line x1="548.88" x2="548.88" y1="462.5" y2="460.55" stroke="#b2dfdb" stroke-width="1"/>
<line x1="555.75" x2="555.75" y1="462.5" y2="460.68" stroke="#b2dfdb" stroke-width="1"/>
<line x1="562.62" x2="562.62" y1="462.5" y2="460.46" stroke="#b2dfdb" stroke-width="1"/>
<line x1="569.49" x2="569.49" y1="462.5" y2="460.87" stroke="#b2dfdb" stroke-width="1"/>
<line x1="576.35" x2="576.35" y1="462.5" y2="461.93" stroke="#b2dfdb" stroke-width="1"/>
<line x1="583.22" x2="583.22" y1="462.5" y2="461.93" stroke="#b2dfdb" stroke-width="1"/>
<line x1="590.09" x2="590.09" y1="462.5" y2="463.07" stroke="#ff5252" stroke-width="1"/>
<line x1="596.96" x2="596.96" y1="462.5" y2="463.07" stroke="#ff5252" stroke-width="1"/>
<line x1="603.83" x2="603.83" y1="462.5" y2="463.57" stroke="#ff5252" stroke-width="1"/>
<line x1="610.69" x2="610.69" y1="462.5" y2="463.67" stroke="#ff5252" stroke-width="1"/>
<line x1="617.56" x2="617.56" y1="462.5" y2="463.54" stroke="#ffcdd2" stroke-width="1"/>
<line x1="624.43" x2="624.43" y1="462.5" y2="461.93" stroke="#26a69a" stroke-width="1"/>
<line x1="631.30" x2="631.30" y1="462.5" y2="461.30" stroke="#26a69a" stroke-width="1"/>
<line x1="638.17" x2="638.17" y1="462.5" y2="460.30" stroke="#26a69a" stroke-width="1"/>
<line x1="645.03" x2="645.03" y1="462.5" y2="459.35" stroke="#26a69a" stroke-width="1"/>
<line x1="651.90" x2="651.90" y1="462.5" y2="458.96" stroke="#26a69a" stroke-width="1"/>
<line x1="658.77" x2="658.77" y1="462.5" y2="458.69" stroke="#b2dfdb" stroke-width="1"/>
<line x1="665.64" x2="665.64" y1="462.5" y2="460.21" stroke="#b2dfdb" stroke-width="1"/>
<line x1="672.51" x2="672.51" y1="462.5" y2="461.70" stroke="#b2dfdb" stroke-width="1"/>
<line x1="679.37" x2="679.37" y1="462.5" y2="461.92" stroke="#b2dfdb" stroke-width="1"/>
<line x1="686.24" x2="686.24" y1="462.5" y2="461.93" stroke="#b2dfdb" stroke-width="1"/>
<line x1="693.11" x2="693.11" y1="462.5" y2="461.93" stroke="#b2dfdb" stroke-width="1"/>
<line x1="699.98" x2="699.98" y1="462.5" y2="463.07" stroke="#ff5252" stroke-width="1"/>
<line x1="706.85" x2="706.85" y1="462.5" y2="463.07" stroke="#ff5252" stroke-width="1"/>
<line x1="713.71" x2="713.71" y1="462.5" y2="463.07" stroke="#ff5252" stroke-width="1"/>
<line x1="720.58" x2="720.58" y1="462.5" y2="463.07" stroke="#ff5252" stroke-width="1"/>
<polyline points="6.5,475.0 21.0,467.1 35.1,461.8 49.2,458.7 61.5,457.4 75.5,453.9 87.8,451.6 98.3,452.2 108.9,453.4 119.4,456.6 129.9,460.9 140.5,464.5 151.0,467.1 165.1,469.7 175.6,471.5 186.1,473.8 198.8,475.0 207.6,473.8 225.1,473.2 242.7,473.8 256.7,472.4 267.3,469.7 281.3,467.1 295.4,465.9 302.4,468.9 316.4,469.7 328.7,470.6 337.5,472.7 348.0,473.4 362.1,473.2 372.6,474.3 380.0,474.6 388.8,471.5 401.1,468.9 418.6,468.0 432.7,465.0 450.2,462.2 464.3,462.5 473.1,464.5 485.4,461.5 497.6,462.7 509.9,458.3 520.5,453.4 534.5,451.3 548.6,453.4 566.1,452.2 581.1,453.6 595.1,453.9 605.7,455.3 618.0,455.7 630.2,453.0 644.3,449.5 658.3,447.4 672.4,449.2 686.4,449.2 698.7,449.5 709.3,450.4 720.7,451.3" fill="none" stroke="#4f7cf7" stroke-width="1.1" stroke-linejoin="round" stroke-linecap="round"/>
<polyline points="6.5,489.9 21.0,482.0 35.1,475.5 49.2,469.7 61.5,465.3 75.5,461.3 87.8,458.0 98.3,456.0 108.9,455.3 119.4,455.7 129.9,457.4 140.5,459.7 151.0,461.8 165.1,464.8 175.6,466.7 186.1,468.5 190.0,469.7 204.0,471.5 225.1,472.4 242.7,472.9 260.2,472.4 277.8,470.6 295.4,468.9 312.9,469.2 330.5,470.1 348.0,471.3 365.6,472.0 380.0,473.6 397.6,471.5 418.6,470.3 436.2,467.6 450.2,465.9 467.8,464.5 485.4,463.6 499.4,463.1 513.4,461.5 524.0,459.2 538.0,456.0 555.6,454.5 577.6,453.6 595.1,453.7 618.0,454.8 630.2,453.9 644.3,452.2 658.3,450.8 672.4,449.9 686.4,449.5 698.7,449.5 709.3,449.9 720.7,450.8" fill="none" stroke="#f78a3a" stroke-width="1.1" stroke-linejoin="round" stroke-linecap="round"/>
</g>
<line x1="1094.4" x2="1094.4" y1="16.5" y2="510.5" stroke="#3a3a3a" stroke-width="0.6"/>
<line x1="6.5" x2="1132.5" y1="493.4" y2="493.4" stroke="#3a3a3a" stroke-width="0.7"/>
<text x="1099.9" y="43" font-size="7" fill="#33363f" textLength="26.6" lengthAdjust="spacingAndGlyphs">3,625.00</text>
<text x="1099.9" y="61" font-size="7" fill="#33363f" textLength="26.6" lengthAdjust="spacingAndGlyphs">3,600.00</text>
<text x="1099.9" y="79" font-size="7" fill="#33363f" textLength="26.6" lengthAdjust="spacingAndGlyphs">3,575.00</text>
<text x="1099.9" y="97" font-size="7" fill="#33363f" textLength="26.6" lengthAdjust="spacingAndGlyphs">3,550.00</text>
<text x="1099.9" y="116" font-size="7" fill="#33363f" textLength="26.6" lengthAdjust="spacingAndGlyphs">3,525.00</text>
<text x="1099.9" y="134" font-size="7" fill="#33363f" textLength="26.6" lengthAdjust="spacingAndGlyphs">3,500.00</text>
<text x="1099.9" y="153" font-size="7" fill="#33363f" textLength="26.6" lengthAdjust="spacingAndGlyphs">3,475.00</text>
<text x="1099.9" y="171" font-size="7" fill="#33363f" textLength="26.6" lengthAdjust="spacingAndGlyphs">3,450.00</text>
<text x="1099.9" y="190" font-size="7" fill="#33363f" textLength="26.6" lengthAdjust="spacingAndGlyphs">3,425.00</text>
<text x="1099.9" y="208" font-size="7" fill="#33363f" textLength="26.6" lengthAdjust="spacingAndGlyphs">3,400.00</text>
<text x="1099.9" y="227" font-size="7" fill="#33363f" textLength="26.6" lengthAdjust="spacingAndGlyphs">3,375.00</text>
<text x="1099.9" y="245" font-size="7" fill="#33363f" textLength="26.6" lengthAdjust="spacingAndGlyphs">3,350.00</text>
<text x="1099.9" y="263" font-size="7" fill="#33363f" textLength="26.6" lengthAdjust="spacingAndGlyphs">3,325.00</text>
<text x="1099.9" y="282" font-size="7" fill="#33363f" textLength="26.6" lengthAdjust="spacingAndGlyphs">3,300.00</text>
<text x="1099.9" y="300" font-size="7" fill="#33363f" textLength="26.6" lengthAdjust="spacingAndGlyphs">3,275.00</text>
<text x="1099.9" y="319" font-size="7" fill="#33363f" textLength="26.6" lengthAdjust="spacingAndGlyphs">3,250.00</text>
<text x="1099.9" y="337" font-size="7" fill="#33363f" textLength="26.6" lengthAdjust="spacingAndGlyphs">3,225.00</text>
<text x="1099.9" y="356" font-size="7" fill="#33363f" textLength="26.6" lengthAdjust="spacingAndGlyphs">3,200.00</text>
<text x="1099.9" y="367" font-size="7" fill="#33363f" textLength="16.6" lengthAdjust="spacingAndGlyphs">70.00</text>
<text x="1099.9" y="386" font-size="7" fill="#33363f" textLength="16.6" lengthAdjust="spacingAndGlyphs">60.00</text>
<text x="1099.9" y="405" font-size="7" fill="#33363f" textLength="16.6" lengthAdjust="spacingAndGlyphs">50.00</text>
<text x="1099.9" y="423" font-size="7" fill="#33363f" textLength="16.6" lengthAdjust="spacingAndGlyphs">40.00</text>
<text x="1099.9" y="442" font-size="7" fill="#33363f" textLength="16.6" lengthAdjust="spacingAndGlyphs">30.00</text>
<text x="1099.9" y="465" font-size="7" fill="#33363f" textLength="12.9" lengthAdjust="spacingAndGlyphs">0.00</text>
<text x="1100.3" y="486" font-size="7" fill="#33363f" textLength="19.9" lengthAdjust="spacingAndGlyphs">−50.00</text>
<rect x="1095" y="17" width="37" height="21.9" fill="#fff"/>
<rect x="1096.4" y="19.3" width="33.6" height="15.9" rx="1.5" fill="#fff" stroke="#eceef3" stroke-width="0.8"/>
<text x="1102.6" y="30.3" font-size="7.4" fill="#131722" textLength="12.5" lengthAdjust="spacingAndGlyphs" stroke="#131722" stroke-width="0.12">USD</text>
<rect x="1094.9" y="86" width="34.2" height="9.5" rx="0.8" fill="#ff0000"/>
<text x="1099.9" y="93.2" font-size="7" fill="#fff" font-weight="bold" textLength="26.6" lengthAdjust="spacingAndGlyphs">3,556.97</text>
<rect x="1094.9" y="103.2" width="34.2" height="9.7" rx="0.8" fill="#ff0000"/>
<text x="1099.9" y="110.8" font-size="7" fill="#fff" font-weight="bold" textLength="26.6" lengthAdjust="spacingAndGlyphs">3,533.20</text>
<rect x="1094.9" y="142.9" width="34.2" height="17.9" rx="0.8" fill="#ff0000"/>
<text x="1099.9" y="150.8" font-size="7" fill="#fff" font-weight="bold" textLength="26.6" lengthAdjust="spacingAndGlyphs">3,479.65</text>
<text x="1099.9" y="158.7" font-size="7" fill="#ffd9d9" textLength="15.6" lengthAdjust="spacingAndGlyphs">38:59</text>
<rect x="1094.9" y="170.6" width="34.2" height="9.7" rx="0.8" fill="#4caf50"/>
<text x="1099.9" y="178" font-size="7" fill="#fff" font-weight="bold" textLength="26.6" lengthAdjust="spacingAndGlyphs">3,442.28</text>
<rect x="1094.9" y="219.5" width="34.2" height="10.0" rx="0.8" fill="#4caf50"/>
<text x="1099.9" y="227.1" font-size="7" fill="#fff" font-weight="bold" textLength="26.6" lengthAdjust="spacingAndGlyphs">3,375.77</text>
<rect x="1094.9" y="336.1" width="34.2" height="10.0" rx="0.8" fill="#4caf50"/>
<text x="1099.9" y="343.6" font-size="7" fill="#fff" font-weight="bold" textLength="26.6" lengthAdjust="spacingAndGlyphs">3,217.71</text>
<text x="41.4" y="504" font-size="7.6" fill="#2a2c33" text-anchor="middle" textLength="7.2" lengthAdjust="spacingAndGlyphs">21</text>
<text x="123.3" y="504" font-size="7.6" fill="#2a2c33" text-anchor="middle" textLength="16.6" lengthAdjust="spacingAndGlyphs">12:00</text>
<text x="205.3" y="504" font-size="7.6" fill="#2a2c33" text-anchor="middle" textLength="7.2" lengthAdjust="spacingAndGlyphs">22</text>
<text x="288.4" y="504" font-size="7.6" fill="#2a2c33" text-anchor="middle" textLength="16.6" lengthAdjust="spacingAndGlyphs">12:00</text>
<text x="370.4" y="504" font-size="7.6" fill="#2a2c33" text-anchor="middle" textLength="7.2" lengthAdjust="spacingAndGlyphs">23</text>
<text x="452.4" y="504" font-size="7.6" fill="#2a2c33" text-anchor="middle" textLength="16.6" lengthAdjust="spacingAndGlyphs">12:00</text>
<text x="535.4" y="504" font-size="7.6" fill="#2a2c33" text-anchor="middle" textLength="7.2" lengthAdjust="spacingAndGlyphs">24</text>
<text x="617.4" y="504" font-size="7.6" fill="#2a2c33" text-anchor="middle" textLength="16.6" lengthAdjust="spacingAndGlyphs">12:00</text>
<text x="699.4" y="504" font-size="7.6" fill="#2a2c33" text-anchor="middle" textLength="7.2" lengthAdjust="spacingAndGlyphs">25</text>
<text x="782.4" y="504" font-size="7.6" fill="#2a2c33" text-anchor="middle" textLength="16.6" lengthAdjust="spacingAndGlyphs">12:00</text>
<text x="864.4" y="504" font-size="7.6" fill="#2a2c33" text-anchor="middle" textLength="7.2" lengthAdjust="spacingAndGlyphs">26</text>
<text x="946.4" y="504" font-size="7.6" fill="#2a2c33" text-anchor="middle" textLength="16.6" lengthAdjust="spacingAndGlyphs">12:00</text>
<text x="1029.3" y="504" font-size="7.6" fill="#2a2c33" text-anchor="middle" textLength="7.2" lengthAdjust="spacingAndGlyphs">27</text>
<text y="11.8" font-size="7.6" fill="#10131c" stroke="#10131c" stroke-width="0.22"><tspan x="6.3" textLength="41.1" lengthAdjust="spacingAndGlyphs">aayushjindal</tspan> <tspan x="50.6" textLength="30.5" lengthAdjust="spacingAndGlyphs">published</tspan> <tspan x="84.7" textLength="7.0" lengthAdjust="spacingAndGlyphs">on</tspan> <tspan x="94.8" textLength="56.9" lengthAdjust="spacingAndGlyphs">TradingView.com,</tspan> <tspan x="155.9" textLength="12.7" lengthAdjust="spacingAndGlyphs">Dec</tspan> <tspan x="171.7" textLength="8.5" lengthAdjust="spacingAndGlyphs">25,</tspan> <tspan x="183.7" textLength="15.4" lengthAdjust="spacingAndGlyphs">2024</tspan> <tspan x="201.9" textLength="16.2" lengthAdjust="spacingAndGlyphs">03:21</tspan> <tspan x="221.7" textLength="12.6" lengthAdjust="spacingAndGlyphs">UTC</tspan></text>
<text y="29" font-size="7.6" fill="#2e3038" stroke="#2e3038" stroke-width="0.1"><tspan x="11.1" textLength="31.6" lengthAdjust="spacingAndGlyphs">Ethereum</tspan> <tspan x="46.6">/</tspan> <tspan x="51.8" textLength="13.3" lengthAdjust="spacingAndGlyphs">U.S.</tspan> <tspan x="68" textLength="20.2" lengthAdjust="spacingAndGlyphs">Dollar,</tspan> <tspan x="91.3" textLength="8.0" lengthAdjust="spacingAndGlyphs">1h,</tspan> <tspan x="101.1" textLength="29.3" lengthAdjust="spacingAndGlyphs">KRAKEN</tspan> <tspan x="135.1">O</tspan><tspan x="140.3" textLength="28.5" lengthAdjust="spacingAndGlyphs" fill="#742c2c" stroke="#742c2c">3,482.04</tspan> <tspan x="173.7">H</tspan><tspan x="179.2" textLength="28.2" lengthAdjust="spacingAndGlyphs" fill="#742c2c" stroke="#742c2c">3,490.00</tspan> <tspan x="212.4">L</tspan><tspan x="216.8" textLength="27.7" lengthAdjust="spacingAndGlyphs" fill="#742c2c" stroke="#742c2c">3,477.70</tspan> <tspan x="249.5">C</tspan><tspan x="254.8" textLength="27.5" lengthAdjust="spacingAndGlyphs" fill="#742c2c" stroke="#742c2c">3,479.65</tspan> <tspan x="287.9" textLength="17.0" lengthAdjust="spacingAndGlyphs" fill="#742c2c" stroke="#742c2c">−1.10</tspan> <tspan x="308" textLength="27.7" lengthAdjust="spacingAndGlyphs" fill="#742c2c" stroke="#742c2c">(−0.03%)</tspan></text>
<text y="39" font-size="7.6" fill="#2e3038" stroke="#2e3038" stroke-width="0.1"><tspan x="11.1" textLength="13.4" lengthAdjust="spacingAndGlyphs">EMA</tspan> <tspan x="28.1" textLength="14.9" lengthAdjust="spacingAndGlyphs">(100,</tspan> <tspan x="46.6" textLength="17.9" lengthAdjust="spacingAndGlyphs">close,</tspan> <tspan x="68.3" textLength="4.4" lengthAdjust="spacingAndGlyphs">0,</tspan> <tspan x="77" textLength="14.7" lengthAdjust="spacingAndGlyphs">SMA,</tspan> <tspan x="95.1" textLength="14.3" lengthAdjust="spacingAndGlyphs">100)</tspan> <tspan x="114.6" textLength="28.4" lengthAdjust="spacingAndGlyphs" fill="#22b8d6" stroke="#22b8d6">3,426.62</tspan></text>
<text y="372" font-size="7.6" fill="#2e3038" stroke="#2e3038" stroke-width="0.1"><tspan x="11.1" textLength="9.4" lengthAdjust="spacingAndGlyphs">RSI</tspan> <tspan x="24" textLength="12.7" lengthAdjust="spacingAndGlyphs">(14,</tspan> <tspan x="39.5" textLength="18.2" lengthAdjust="spacingAndGlyphs">close,</tspan> <tspan x="60.8" textLength="15.1" lengthAdjust="spacingAndGlyphs">SMA,</tspan> <tspan x="79.5" textLength="7.4" lengthAdjust="spacingAndGlyphs">14,</tspan> <tspan x="90.1" textLength="7.6" lengthAdjust="spacingAndGlyphs">2)</tspan> <tspan x="103.5" textLength="17.9" lengthAdjust="spacingAndGlyphs" fill="#a436ba" stroke="#a436ba">58.10</tspan> <tspan x="126.1" textLength="17.7" lengthAdjust="spacingAndGlyphs" fill="#f7dc3f" stroke="#f7dc3f">60.88</tspan> <tspan x="149.4" textLength="4.8" lengthAdjust="spacingAndGlyphs">∅</tspan> <tspan x="158.4" textLength="4.8" lengthAdjust="spacingAndGlyphs">∅</tspan></text>
<text y="457" font-size="7.6" fill="#2e3038" stroke="#2e3038" stroke-width="0.1"><tspan x="10.9" textLength="19.3" lengthAdjust="spacingAndGlyphs">MACD</tspan> <tspan x="33.4" textLength="11.9" lengthAdjust="spacingAndGlyphs">(12,</tspan> <tspan x="48.3" textLength="8.2" lengthAdjust="spacingAndGlyphs">26,</tspan> <tspan x="60.6" textLength="17.5" lengthAdjust="spacingAndGlyphs">close,</tspan> <tspan x="82.2" textLength="3.8" lengthAdjust="spacingAndGlyphs">9,</tspan> <tspan x="90.4" textLength="15.8" lengthAdjust="spacingAndGlyphs">EMA,</tspan> <tspan x="110.3" textLength="15.8" lengthAdjust="spacingAndGlyphs">EMA)</tspan> <tspan x="131.7" textLength="17.2" lengthAdjust="spacingAndGlyphs" fill="#f0525f" stroke="#f0525f">−2.69</tspan> <tspan x="154.2" textLength="17.5" lengthAdjust="spacingAndGlyphs" fill="#3f74f0" stroke="#3f74f0">25.30</tspan> <tspan x="177" textLength="17.6" lengthAdjust="spacingAndGlyphs" fill="#f7822e" stroke="#f7822e">27.99</tspan></text>
<g fill="#131722"><path d="M6 517.8 H11.6 V523.7 H8.9 V520.4 H6 Z"/><circle cx="13.2" cy="519.1" r="1.25"/><path d="M15.2 517.8 H18.2 L15.7 523.7 H12.7 Z"/></g>
<text x="20.5" y="523.8" font-size="8.9" fill="#1e222d" textLength="43.4" lengthAdjust="spacingAndGlyphs">TradingView</text>
</svg>
</body></html>
